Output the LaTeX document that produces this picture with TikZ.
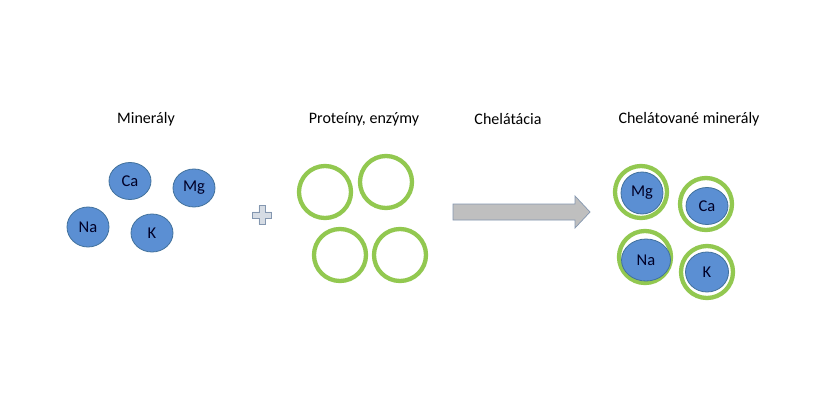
\documentclass[tikz,border=0pt]{standalone}
\usepackage{fontspec}
\setmainfont{Carlito}
\usetikzlibrary{shapes.geometric}
\definecolor{minfill}{HTML}{5B8FD3}
\definecolor{minline}{HTML}{41719C}
\definecolor{ringgreen}{HTML}{92C850}
\definecolor{arrfill}{HTML}{BFBFBF}
\definecolor{arrline}{HTML}{8497B0}
\definecolor{plusfill}{HTML}{D6DCE4}
\begin{document}
\begin{tikzpicture}[x=1pt,y=-1pt,
  mineral/.style={ellipse, draw=minline, fill=minfill, line width=0.8pt, inner sep=0pt, text=black!85!blue, font=\fontsize{16.5}{16.5}\selectfont},
  ring/.style={circle, draw=ringgreen, line width=4.3pt, minimum size=52pt, inner sep=0pt},
  title/.style={font=\fontsize{16}{16}\selectfont}]
\useasboundingbox (0,0) rectangle (840,420);
\fill[white] (0,0) rectangle (840,420);
% titles
\node[title] (t1) at (146,119) {Minerály};
\node[title] (t2) at (364,119) {Proteíny, enzýmy};
\node[title] (t3) at (508,119) {Chelátácia};
\node[title] (t4) at (689,119) {Chelátované minerály};
% minerals
\node[mineral, minimum width=42pt, minimum height=37pt] (ca) at (130,181) {Ca};
\node[mineral, minimum width=42pt, minimum height=38pt] (mg) at (194,188) {Mg};
\node[mineral, minimum width=42pt, minimum height=40pt] (na) at (88,227) {Na};
\node[mineral, minimum width=42pt, minimum height=38pt] (k) at (152,233) {K};
% plus sign
\coordinate (plus) at (262,215);
\draw[draw=arrline, fill=plusfill, line width=0.6pt, shift={(plus)}]
  (-3.2,-9.5) -- (3.2,-9.5) -- (3.2,-3.2) -- (9.5,-3.2) -- (9.5,3.2) -- (3.2,3.2)
  -- (3.2,9.5) -- (-3.2,9.5) -- (-3.2,3.2) -- (-9.5,3.2) -- (-9.5,-3.2) -- (-3.2,-3.2) -- cycle;
% protein rings
\node[ring] (p1) at (325,192) {};
\node[ring] (p2) at (386,182) {};
\node[ring] (p3) at (340,255) {};
\node[ring] (p4) at (400,255) {};
% arrow
\coordinate (arr) at (453,212);
\draw[draw=arrline, fill=arrfill, line width=0.7pt, shift={(arr)}]
  (0,-8) -- (122,-8) -- (122,-16) -- (137,0) -- (122,16) -- (122,8) -- (0,8) -- cycle;
% chelated minerals
\node[ring] (r1) at (641,192) {};
\node[mineral, minimum width=42pt, minimum height=42pt] (cmg) at (642,193) {Mg};
\node[ring] (r2) at (706,204) {};
\node[mineral, minimum width=42pt, minimum height=37pt] (cca) at (707,206) {Ca};
\node[ring] (r3) at (645,257) {};
\node[mineral, minimum width=49pt, minimum height=42pt] (cna) at (646,260) {Na};
\node[ring] (r4) at (707,272) {};
\node[mineral, minimum width=43pt, minimum height=40pt] (ck) at (707,272) {K};
\end{tikzpicture}
\end{document}
